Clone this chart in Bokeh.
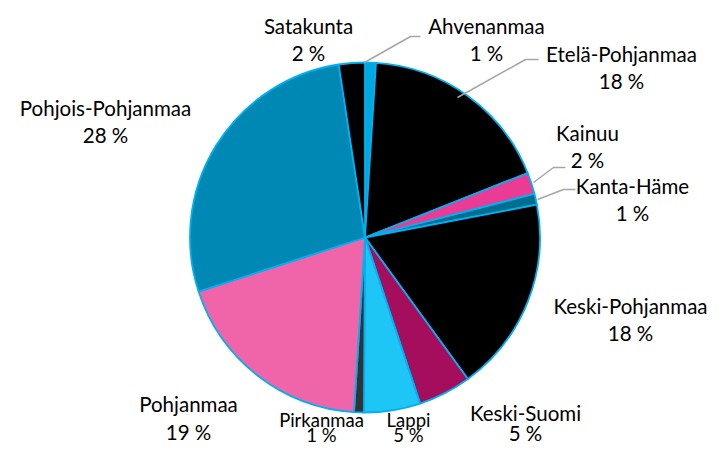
import numpy as np
from bokeh.plotting import figure
from bokeh.models import Range1d, ColumnDataSource
from bokeh.core.properties import value
from bokeh.embed import file_html
from bokeh.resources import INLINE

# ---- data ----
regions = ["Ahvenanmaa", "Etelä-Pohjanmaa", "Kainuu", "Kanta-Häme", "Keski-Pohjanmaa",
           "Keski-Suomi", "Lappi", "Pirkanmaa", "Pohjanmaa", "Pohjois-Pohjanmaa", "Satakunta"]
shares = [1.0, 18.0, 2.0, 1.0, 18.0, 4.9, 5.2, 0.9, 19.0, 27.6, 2.4]
colors = ["#00a8e0", "#000000", "#ea3c94", "#006e8f", "#000000",
          "#a50e5c", "#1ec6f6", "#333333", "#f064aa", "#0088b5", "#000000"]

W, H = 709, 445
def px(x): return x
def py(y): return H - y

p = figure(width=W, height=H, output_backend="svg", toolbar_location=None,
           x_range=Range1d(0, W), y_range=Range1d(0, H),
           x_axis_type=None, y_axis_type=None, min_border=0,
           outline_line_color=None, background_fill_color="white")
p.grid.visible = False

cx, cy, r = px(364.5), py(237), 175
frac = np.array(shares) / sum(shares)
cum = np.concatenate([[0], np.cumsum(frac)])
start = np.pi / 2 - 2 * np.pi * cum[1:]
end = np.pi / 2 - 2 * np.pi * cum[:-1]
src = ColumnDataSource(dict(start=start, end=end, color=colors, name=regions))
p.wedge(x=cx, y=cy, radius=r, start_angle="start", end_angle="end", direction="anticlock",
        fill_color="color", line_color="#00b0f0", line_width=1.8, source=src)

# leader lines (page coords)
leaders = [
    [(420, 36), (410, 36), (364, 62)],
    [(538, 59), (525, 59), (457, 97)],
    [(565, 167), (553, 167), (533, 182)],
    [(575, 189), (563, 189), (537, 199)],
]
p.multi_line(xs=[[px(a) for a, b in L] for L in leaders],
             ys=[[py(b) for a, b in L] for L in leaders],
             line_color="#a6a6a6", line_width=1.5)

# label positions: (center x, y of first line, line gap, font px) in page coords
label_pos = {
    "Satakunta": (308, 25, 27, 20.5),
    "Ahvenanmaa": (486, 25, 27, 20.5),
    "Etelä-Pohjanmaa": (621, 53, 27, 20.5),
    "Kainuu": (587, 132, 27, 20.5),
    "Kanta-Häme": (632, 185, 27, 20.5),
    "Keski-Pohjanmaa": (630, 305, 27, 20.5),
    "Keski-Suomi": (525, 412, 20, 20.5),
    "Lappi": (408, 419, 15, 18.5),
    "Pirkanmaa": (321, 419, 15, 18.5),
    "Pohjanmaa": (188, 403, 28, 20.5),
    "Pohjois-Pohjanmaa": (105, 107, 27, 20.5),
}
tx, ty, tt, fs = [], [], [], []
for name, s in zip(regions, shares):
    x, y, g, f = label_pos[name]
    tx += [px(x), px(x)]
    ty += [py(y), py(y + g)]
    tt += [name, f"{round(s)} %"]
    fs += [f"{f}px", f"{f}px"]
lsrc = ColumnDataSource(dict(x=tx, y=ty, text=tt, fs=fs))
p.text(x="x", y="y", text="text", text_font_size="fs", source=lsrc,
       text_align="center", text_baseline="middle",
       text_font=value("Lato"), text_color="#000000")

open("out.html", "w").write(file_html(p, INLINE))
